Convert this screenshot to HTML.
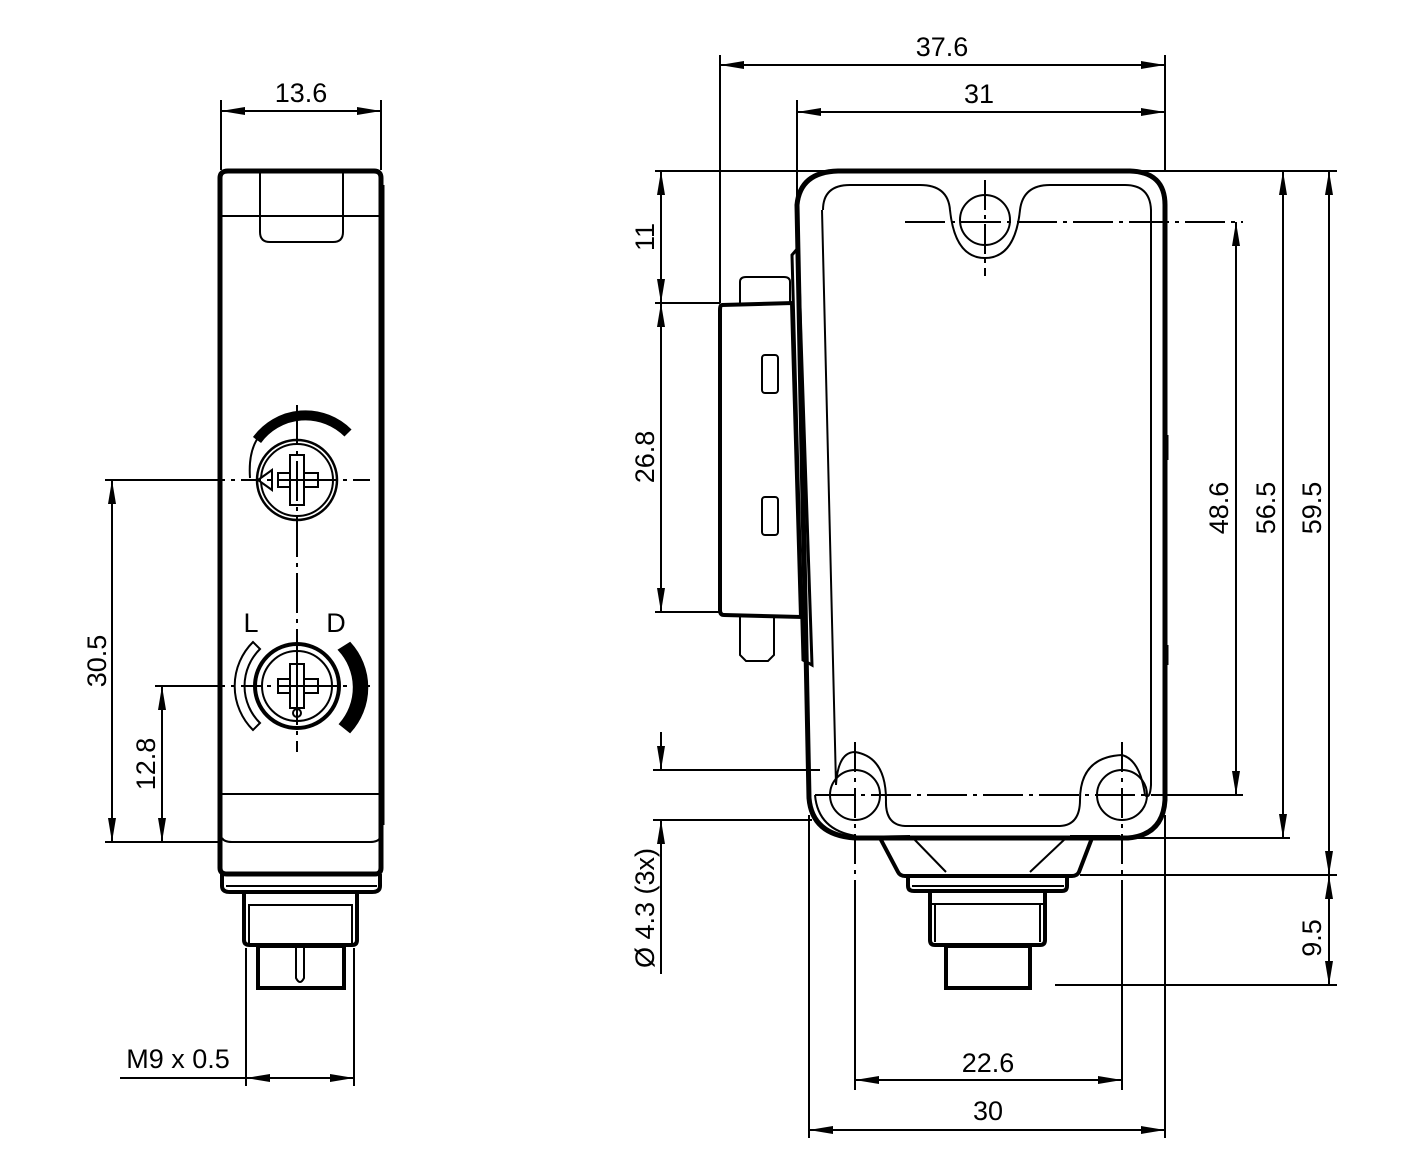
<!DOCTYPE html>
<html><head><meta charset="utf-8"><style>
html,body{margin:0;padding:0;background:#fff;}
svg{display:block}
text{font-family:"Liberation Sans",Arial,sans-serif;font-size:27px;fill:#000}
</style></head><body>
<svg width="1417" height="1169" viewBox="0 0 1417 1169" xmlns="http://www.w3.org/2000/svg">
<defs>
<marker id="a" viewBox="0 0 24 8" refX="24" refY="4" markerWidth="24" markerHeight="8" markerUnits="userSpaceOnUse" orient="auto-start-reverse">
<path d="M0,0 L24,4 L0,8 z" fill="#000"/></marker>
</defs>
<g fill="none" stroke="#000" stroke-width="2">
<!-- ===== LEFT VIEW ===== -->
<line x1="221" y1="100" x2="221" y2="170"/>
<line x1="381" y1="100" x2="381" y2="170"/>
<line x1="221" y1="111" x2="381" y2="111" marker-start="url(#a)" marker-end="url(#a)"/>
<path d="M220,178 Q220,171 228,171 L374,171 Q381,171 381,178 L381,868 Q381,874 375,874 L227,874 Q220,874 220,868 Z" stroke-width="5"/>
<line x1="383" y1="185" x2="383" y2="825" stroke-width="3"/>
<line x1="222" y1="216" x2="380" y2="216"/>
<path d="M260,172 L260,232 Q260,242 270,242 L333,242 Q343,242 343,232 L343,172"/>
<line x1="222" y1="794" x2="380" y2="794"/>
<path d="M222,838 Q224,842 232,842 L370,842 Q378,842 380,838"/>
<path d="M222,874 L222,886 Q222,892 230,892 L372,892 Q380,892 380,886 L380,874" stroke-width="4"/>
<line x1="226" y1="886" x2="377" y2="886"/>
<path d="M244,892 L244,940 Q244,945 250,945 L352,945 Q357,945 357,940 L357,892" stroke-width="4"/>
<line x1="248" y1="905" x2="353" y2="905"/>
<line x1="249" y1="905" x2="249" y2="943"/>
<line x1="352" y1="905" x2="352" y2="943"/>
<rect x="258" y="946" width="86" height="42" stroke-width="4"/>
<path d="M296,948 L296,978 Q300,986 304,978 L304,948"/>
<line x1="246" y1="948" x2="246" y2="1086"/>
<line x1="354" y1="948" x2="354" y2="1086"/>
<line x1="120" y1="1078" x2="354" y2="1078" marker-end="url(#a)"/>
<line x1="300" y1="1078" x2="246" y2="1078" marker-end="url(#a)"/>
<!-- pot 1 -->
<circle cx="297" cy="480" r="40" stroke-width="2.5"/>
<circle cx="297" cy="480" r="36"/>
<path d="M250,478 Q248,450 260,435" stroke-width="2"/>
<path d="M257,440 A60,60 0 0 1 348,433" stroke-width="10"/>
<path d="M258,480 L272,470 L272,490 Z" fill="#fff"/>
<rect x="278" y="473" width="40" height="14" fill="#fff"/>
<rect x="290" y="455" width="14" height="50" fill="#fff"/>
<line x1="290" y1="480" x2="304" y2="480"/>
<line x1="297" y1="462" x2="297" y2="497"/>
<!-- pot 2 -->
<circle cx="297" cy="686" r="42" stroke-width="4"/>
<circle cx="297" cy="686" r="35"/>
<path d="M253,642 A62,62 0 0 0 253,730 L260,723 A52,52 0 0 1 260,649 Z"/>
<path d="M339,650 A55,55 0 0 1 340,724 L350,732 A66,66 0 0 0 350,643 Z" fill="#000"/>
<rect x="278" y="679" width="40" height="14" fill="#fff"/>
<rect x="290" y="664" width="14" height="44" fill="#fff"/>
<line x1="290" y1="686" x2="304" y2="686"/>
<line x1="297" y1="668" x2="297" y2="704"/>
<circle cx="297" cy="713" r="4"/>
<line x1="105" y1="480" x2="370" y2="480" stroke-dasharray="120,6,4,6,20,6,4,6,60,6,4,6"/>
<line x1="155" y1="686" x2="370" y2="686" stroke-dasharray="70,6,4,6,20,6,4,6,60,6,4,6"/>
<line x1="297" y1="405" x2="297" y2="752" stroke-dasharray="40,6,4,6"/>
<line x1="105" y1="842" x2="222" y2="842"/>
<line x1="112" y1="480" x2="112" y2="842" marker-start="url(#a)" marker-end="url(#a)"/>
<line x1="162" y1="686" x2="162" y2="842" marker-start="url(#a)" marker-end="url(#a)"/>

<!-- ===== RIGHT VIEW ===== -->
<path d="M740,303 L740,282 Q740,277 746,277 L784,277 Q790,277 790,282 L790,303"/>
<path d="M722,305 L792,303 L801,617 L724,615 Q720,615 720,610 L720,310 Q720,305 722,305 Z" stroke-width="4"/>
<path d="M740,617 L740,655 L746,661 L768,661 L774,655 L774,617"/>
<rect x="762" y="355" width="16" height="38" rx="3"/>
<rect x="762" y="497" width="16" height="38" rx="3"/>
<path d="M792,255 L798,248 L812,665 L803,660 Z" stroke-width="3"/>
<path d="M797,205 Q800,172 838,171 L1130,171 Q1165,172 1165,205 L1165,800 Q1163,835 1128,838 L855,838 Q812,835 809,798 Z" stroke-width="5"/>
<line x1="1166" y1="435" x2="1166" y2="460" stroke-width="5"/>
<line x1="1166" y1="645" x2="1166" y2="665" stroke-width="5"/>
<path d="M823,210 Q823,185 850,185 L920,185 Q948,185 950,210 Q955,258 985,258 Q1015,258 1020,210 Q1023,185 1050,185 L1125,185 Q1150,185 1151,210 L1151,785 Q1150,800 1145,795 Q1140,760 1122,755 Q1080,757 1080,800 Q1080,825 1060,826 L905,826 Q885,825 886,800 Q886,757 855,752 Q838,752 836,785 L822,210"/>
<circle cx="985" cy="220" r="25"/>
<circle cx="855" cy="795" r="25"/>
<circle cx="1122" cy="795" r="25"/>
<path d="M815,795 Q818,830 856,836" stroke-width="2"/>
<path d="M858,837 L910,836"/>
<path d="M1070,836 L1120,836"/>
<path d="M880,838 L898,872 Q900,876 905,876 L1072,876 Q1077,876 1079,872 L1092,838" stroke-width="4"/>
<line x1="913" y1="838" x2="946" y2="872"/>
<line x1="1066" y1="838" x2="1030" y2="872"/>
<path d="M908,876 L908,886 Q908,891 914,891 L1062,891 Q1067,891 1067,886 L1067,876" stroke-width="4"/>
<line x1="912" y1="886" x2="1064" y2="886"/>
<path d="M930,891 L930,940 Q930,945 935,945 L1040,945 Q1045,945 1045,940 L1045,891" stroke-width="4"/>
<line x1="932" y1="904" x2="1043" y2="904"/>
<line x1="935" y1="904" x2="935" y2="942"/>
<line x1="1040" y1="904" x2="1040" y2="942"/>
<rect x="946" y="946" width="84" height="42" stroke-width="4"/>
<line x1="905" y1="222" x2="1243" y2="222" stroke-dasharray="40,6,4,6"/>
<line x1="985" y1="180" x2="985" y2="276" stroke-dasharray="30,5,4,5"/>
<line x1="815" y1="795" x2="1160" y2="795" stroke-dasharray="40,6,4,6"/>
<line x1="855" y1="742" x2="855" y2="880" stroke-dasharray="30,6,4,6"/>
<line x1="1122" y1="742" x2="1122" y2="880" stroke-dasharray="30,6,4,6"/>
<line x1="855" y1="880" x2="855" y2="1090"/>
<line x1="1122" y1="880" x2="1122" y2="1090"/>
<line x1="1160" y1="795" x2="1243" y2="795"/>
<line x1="720" y1="55" x2="720" y2="303"/>
<line x1="1165" y1="55" x2="1165" y2="172"/>
<line x1="720" y1="65" x2="1165" y2="65" marker-start="url(#a)" marker-end="url(#a)"/>
<line x1="797" y1="100" x2="797" y2="205"/>
<line x1="797" y1="112" x2="1165" y2="112" marker-start="url(#a)" marker-end="url(#a)"/>
<line x1="655" y1="171" x2="1337" y2="171"/>
<line x1="655" y1="303" x2="720" y2="303"/>
<line x1="655" y1="612" x2="720" y2="612"/>
<line x1="661" y1="171" x2="661" y2="303" marker-start="url(#a)" marker-end="url(#a)"/>
<line x1="661" y1="303" x2="661" y2="612" marker-start="url(#a)" marker-end="url(#a)"/>
<line x1="653" y1="770" x2="820" y2="770"/>
<line x1="653" y1="820" x2="812" y2="820"/>
<line x1="661" y1="732" x2="661" y2="770" marker-end="url(#a)"/>
<line x1="661" y1="974" x2="661" y2="820" marker-end="url(#a)"/>
<line x1="1236" y1="222" x2="1236" y2="795" marker-start="url(#a)" marker-end="url(#a)"/>
<line x1="1130" y1="838" x2="1290" y2="838"/>
<line x1="1283" y1="171" x2="1283" y2="838" marker-start="url(#a)" marker-end="url(#a)"/>
<line x1="1080" y1="875" x2="1337" y2="875"/>
<line x1="1329" y1="171" x2="1329" y2="875" marker-start="url(#a)" marker-end="url(#a)"/>
<line x1="1329" y1="875" x2="1329" y2="985" marker-start="url(#a)" marker-end="url(#a)"/>
<line x1="1055" y1="985" x2="1337" y2="985"/>
<line x1="855" y1="1080" x2="1122" y2="1080" marker-start="url(#a)" marker-end="url(#a)"/>
<line x1="809" y1="815" x2="809" y2="1138"/>
<line x1="1165" y1="815" x2="1165" y2="1138"/>
<line x1="809" y1="1130" x2="1165" y2="1130" marker-start="url(#a)" marker-end="url(#a)"/>
</g>
<text x="301" y="102" text-anchor="middle">13.6</text>
<text x="251" y="632" text-anchor="middle">L</text>
<text x="336" y="632" text-anchor="middle">D</text>
<text x="178" y="1068" text-anchor="middle">M9 x 0.5</text>
<text transform="translate(106,661) rotate(-90)" text-anchor="middle">30.5</text>
<text transform="translate(155,764) rotate(-90)" text-anchor="middle">12.8</text>
<text x="942" y="56" text-anchor="middle">37.6</text>
<text x="979" y="103" text-anchor="middle">31</text>
<text transform="translate(654,237) rotate(-90)" text-anchor="middle">11</text>
<text transform="translate(654,457) rotate(-90)" text-anchor="middle">26.8</text>
<text transform="translate(654,908) rotate(-90)" text-anchor="middle">Ø 4.3 (3x)</text>
<text transform="translate(1228,508) rotate(-90)" text-anchor="middle">48.6</text>
<text transform="translate(1275,508) rotate(-90)" text-anchor="middle">56.5</text>
<text transform="translate(1321,508) rotate(-90)" text-anchor="middle">59.5</text>
<text transform="translate(1321,938) rotate(-90)" text-anchor="middle">9.5</text>
<text x="988" y="1072" text-anchor="middle">22.6</text>
<text x="988" y="1120" text-anchor="middle">30</text>
</svg>
</body></html>
